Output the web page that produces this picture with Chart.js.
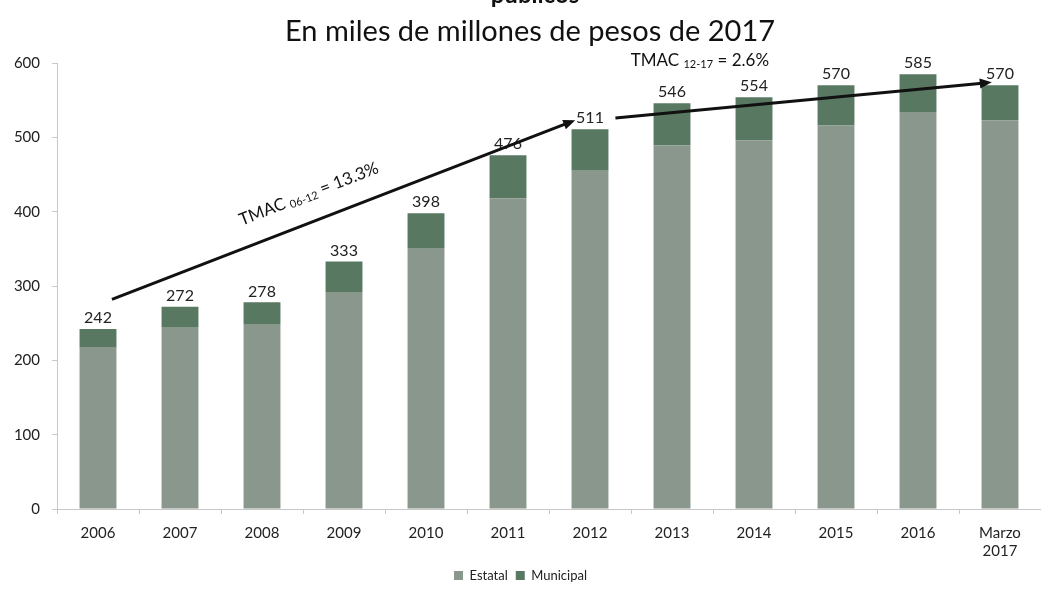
<!DOCTYPE html>
<html>
<head>
<meta charset="utf-8">
<script src="https://cdn.jsdelivr.net/npm/chart.js@4.4.0/dist/chart.umd.min.js"></script>
<style>
  html, body { margin: 0; padding: 0; background: #ffffff; }
  #wrap { position: relative; width: 1041px; height: 592px; }
  canvas { display: block; }
</style>
</head>
<body>
<div id="wrap"><canvas id="c" width="1041" height="592"></canvas></div>
<script>
// ---- Data ----
const categories = ["2006","2007","2008","2009","2010","2011","2012","2013","2014","2015","2016",["Marzo","2017"]];
const totals     = [242, 272, 278, 333, 398, 476, 511, 546, 554, 570, 585, 570];
const municipal  = [25, 27, 30, 42, 48, 58, 56, 57, 58, 54, 51, 47];
const estatal    = totals.map((t, i) => t - municipal[i]);
const yTicks     = [0, 100, 200, 300, 400, 500, 600];
const titleText    = "públicos";
const subtitleText = "En miles de millones de pesos de 2017";

// Growth-rate annotations (category index, value)
const arrows = [
  { from: [0.17, 282], to: [5.82, 523] },
  { from: [6.31, 526], to: [10.9, 574] }
];
const arrowTexts = [
  { at: [2.57, 424], main: "TMAC ", sub: "06-12", tail: " = 13.3%", rotate: true, ref: 0 },
  { at: [7.34, 604], main: "TMAC ", sub: "12-17", tail: " = 2.6%", rotate: false, ref: 1 }
];

const FONT = "Lato, 'Open Sans', sans-serif";

const overlay = {
  id: 'overlay',
  afterDatasetsDraw(chart) {
    const ctx = chart.ctx;
    const x = chart.scales.x, y = chart.scales.y;
    ctx.save();
    // totals above bars
    ctx.fillStyle = '#222';
    ctx.font = "16px " + FONT;
    ctx.textAlign = 'center';
    ctx.textBaseline = 'bottom';
    totals.forEach((t, i) => {
      ctx.fillText(String(t), x.getPixelForValue(i), y.getPixelForValue(t) - 3);
    });
    // arrows
    ctx.strokeStyle = '#111';
    ctx.fillStyle = '#111';
    ctx.lineWidth = 3;
    arrows.forEach(a => {
      const x1 = x.getPixelForValue(a.from[0]), y1 = y.getPixelForValue(a.from[1]);
      const x2 = x.getPixelForValue(a.to[0]), y2 = y.getPixelForValue(a.to[1]);
      const ang = Math.atan2(y2 - y1, x2 - x1);
      const hl = 12;
      ctx.beginPath();
      ctx.moveTo(x1, y1);
      ctx.lineTo(x2 - Math.cos(ang) * hl * 0.8, y2 - Math.sin(ang) * hl * 0.8);
      ctx.stroke();
      ctx.beginPath();
      ctx.moveTo(x2, y2);
      ctx.lineTo(x2 - hl * Math.cos(ang) + 5 * Math.sin(ang), y2 - hl * Math.sin(ang) - 5 * Math.cos(ang));
      ctx.lineTo(x2 - hl * Math.cos(ang) - 5 * Math.sin(ang), y2 - hl * Math.sin(ang) + 5 * Math.cos(ang));
      ctx.closePath();
      ctx.fill();
    });
    // arrow texts
    arrowTexts.forEach(t => {
      const a = arrows[t.ref];
      const cx = x.getPixelForValue(t.at[0]), cy = y.getPixelForValue(t.at[1]);
      let ang = 0;
      if (t.rotate) {
        const x1 = x.getPixelForValue(a.from[0]), y1 = y.getPixelForValue(a.from[1]);
        const x2 = x.getPixelForValue(a.to[0]), y2 = y.getPixelForValue(a.to[1]);
        ang = Math.atan2(y2 - y1, x2 - x1);
      }
      ctx.save();
      ctx.translate(cx, cy);
      ctx.rotate(ang);
      const mainFont = "17px " + FONT, subFont = "11px " + FONT;
      ctx.font = mainFont; const w1 = ctx.measureText(t.main).width; const w3 = ctx.measureText(t.tail).width;
      ctx.font = subFont; const w2 = ctx.measureText(t.sub).width;
      let sx = -(w1 + w2 + w3) / 2;
      ctx.textAlign = 'left';
      ctx.textBaseline = 'middle';
      ctx.fillStyle = '#111';
      ctx.font = mainFont; ctx.fillText(t.main, sx, 0); sx += w1;
      ctx.font = subFont; ctx.fillText(t.sub, sx, 4); sx += w2;
      ctx.font = mainFont; ctx.fillText(t.tail, sx, 0);
      ctx.restore();
    });
    // titles
    ctx.fillStyle = '#111';
    ctx.textAlign = 'center';
    ctx.textBaseline = 'alphabetic';
    ctx.font = "bold 24px " + FONT;
    ctx.fillText(titleText, 535, 3);
    ctx.font = "29px " + FONT;
    ctx.fillText(subtitleText, 530, 41);
    ctx.restore();
  }
};

new Chart(document.getElementById('c'), {
  type: 'bar',
  data: {
    labels: categories,
    datasets: [
      { label: 'Estatal', data: estatal, backgroundColor: '#8a978d', borderWidth: 0,
        barPercentage: 0.9, categoryPercentage: 0.5 },
      { label: 'Municipal', data: municipal, backgroundColor: '#587862', borderWidth: 0,
        barPercentage: 0.9, categoryPercentage: 0.5 }
    ]
  },
  options: {
    responsive: false,
    animation: false,
    layout: { padding: { top: 63, left: 0, right: 0, bottom: 0 } },
    plugins: {
      legend: {
        position: 'bottom',
        labels: {
          font: { family: FONT, size: 13 }, color: '#222',
          boxWidth: 9, boxHeight: 9, padding: 8
        }
      },
      tooltip: { enabled: false },
      title: { display: false }
    },
    scales: {
      x: {
        stacked: true,
        grid: { display: true, drawOnChartArea: false, drawTicks: true, tickLength: 5, color: '#c8c8c8', offset: true },
        border: { display: true, color: '#c8c8c8' },
        ticks: { font: { family: FONT, size: 15 }, color: '#222', maxRotation: 0, padding: 10 },
        afterFit(s) { s.height = 52; }
      },
      y: {
        stacked: true,
        min: 0, max: 600,
        afterBuildTicks(s) { s.ticks = yTicks.map(v => ({ value: v })); },
        grid: { display: true, drawOnChartArea: false, drawTicks: true, tickLength: 5, color: '#c8c8c8' },
        border: { display: true, color: '#c8c8c8' },
        ticks: { font: { family: FONT, size: 15 }, color: '#222', padding: 12 },
        afterFit(s) { s.width = 57; }
      }
    }
  },
  plugins: [overlay]
});
</script>
</body>
</html>
